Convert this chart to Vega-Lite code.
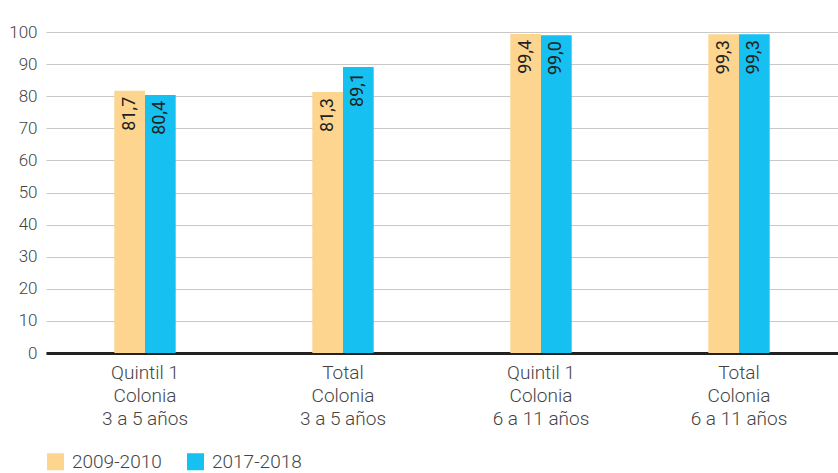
{
  "$schema": "https://vega.github.io/schema/vega-lite/v6.json",
  "width": 792,
  "height": 321,
  "autosize": {"type": "none"},
  "padding": {"left": 46, "top": 32, "right": 0, "bottom": 120},
  "background": "white",
  "config": {
    "view": {"stroke": null},
    "font": "Roboto",
    "locale": {"number": {"decimal": ",", "thousands": ".", "grouping": [3], "currency": ["", " €"]}}
  },
  "data": {
    "values": [
      {"grupo": "Quintil 1|Colonia|3 a 5 años", "periodo": "2009-2010", "valor": 81.7},
      {"grupo": "Quintil 1|Colonia|3 a 5 años", "periodo": "2017-2018", "valor": 80.4},
      {"grupo": "Total|Colonia|3 a 5 años", "periodo": "2009-2010", "valor": 81.3},
      {"grupo": "Total|Colonia|3 a 5 años", "periodo": "2017-2018", "valor": 89.1},
      {"grupo": "Quintil 1|Colonia|6 a 11 años", "periodo": "2009-2010", "valor": 99.4},
      {"grupo": "Quintil 1|Colonia|6 a 11 años", "periodo": "2017-2018", "valor": 99.0},
      {"grupo": "Total|Colonia|6 a 11 años", "periodo": "2009-2010", "valor": 99.3},
      {"grupo": "Total|Colonia|6 a 11 años", "periodo": "2017-2018", "valor": 99.3}
    ]
  },
  "encoding": {
    "x": {
      "field": "grupo",
      "type": "nominal",
      "sort": null,
      "scale": {"paddingInner": 0.69, "paddingOuter": 0.345},
      "axis": {
        "title": null,
        "labelAngle": 0,
        "labelExpr": "split(datum.label, '|')",
        "labelFontSize": 19,
        "labelFontWeight": 300,
        "labelColor": "#444444",
        "labelLineHeight": 23,
        "labelPadding": 10,
        "labelBaseline": "top",
        "ticks": false,
        "domainColor": "#222222",
        "domainWidth": 3,
        "grid": false
      }
    },
    "xOffset": {"field": "periodo", "type": "nominal", "scale": {"paddingInner": 0}},
    "y": {
      "field": "valor",
      "type": "quantitative",
      "scale": {"domain": [0, 100], "nice": false},
      "axis": {
        "title": null,
        "values": [0, 10, 20, 30, 40, 50, 60, 70, 80, 90, 100],
        "labelFontSize": 17,
        "labelFontWeight": 300,
        "labelColor": "#444444",
        "labelPadding": 9,
        "ticks": false,
        "domain": false,
        "gridColor": "#c8c8c8",
        "gridWidth": 1.2
      }
    }
  },
  "layer": [
    {
      "mark": {"type": "bar"},
      "encoding": {
        "color": {
          "field": "periodo",
          "type": "nominal",
          "scale": {"domain": ["2009-2010", "2017-2018"], "range": ["#FDD58F", "#16C0F0"]},
          "legend": {
            "title": null,
            "orient": "none",
            "legendX": 0,
            "legendY": 420,
            "direction": "horizontal",
            "symbolType": "square",
            "symbolSize": 290,
            "symbolStrokeWidth": 0,
            "labelFontSize": 19,
            "labelFontWeight": 300,
            "labelColor": "#444444",
            "labelOffset": 7,
            "columnPadding": 24
          }
        }
      }
    },
    {
      "mark": {"type": "text", "angle": -90, "align": "right", "baseline": "middle", "dx": -6, "fontSize": 18, "color": "#222222"},
      "encoding": {
        "text": {"field": "valor", "type": "quantitative", "format": ".1f"}
      }
    }
  ]
}
